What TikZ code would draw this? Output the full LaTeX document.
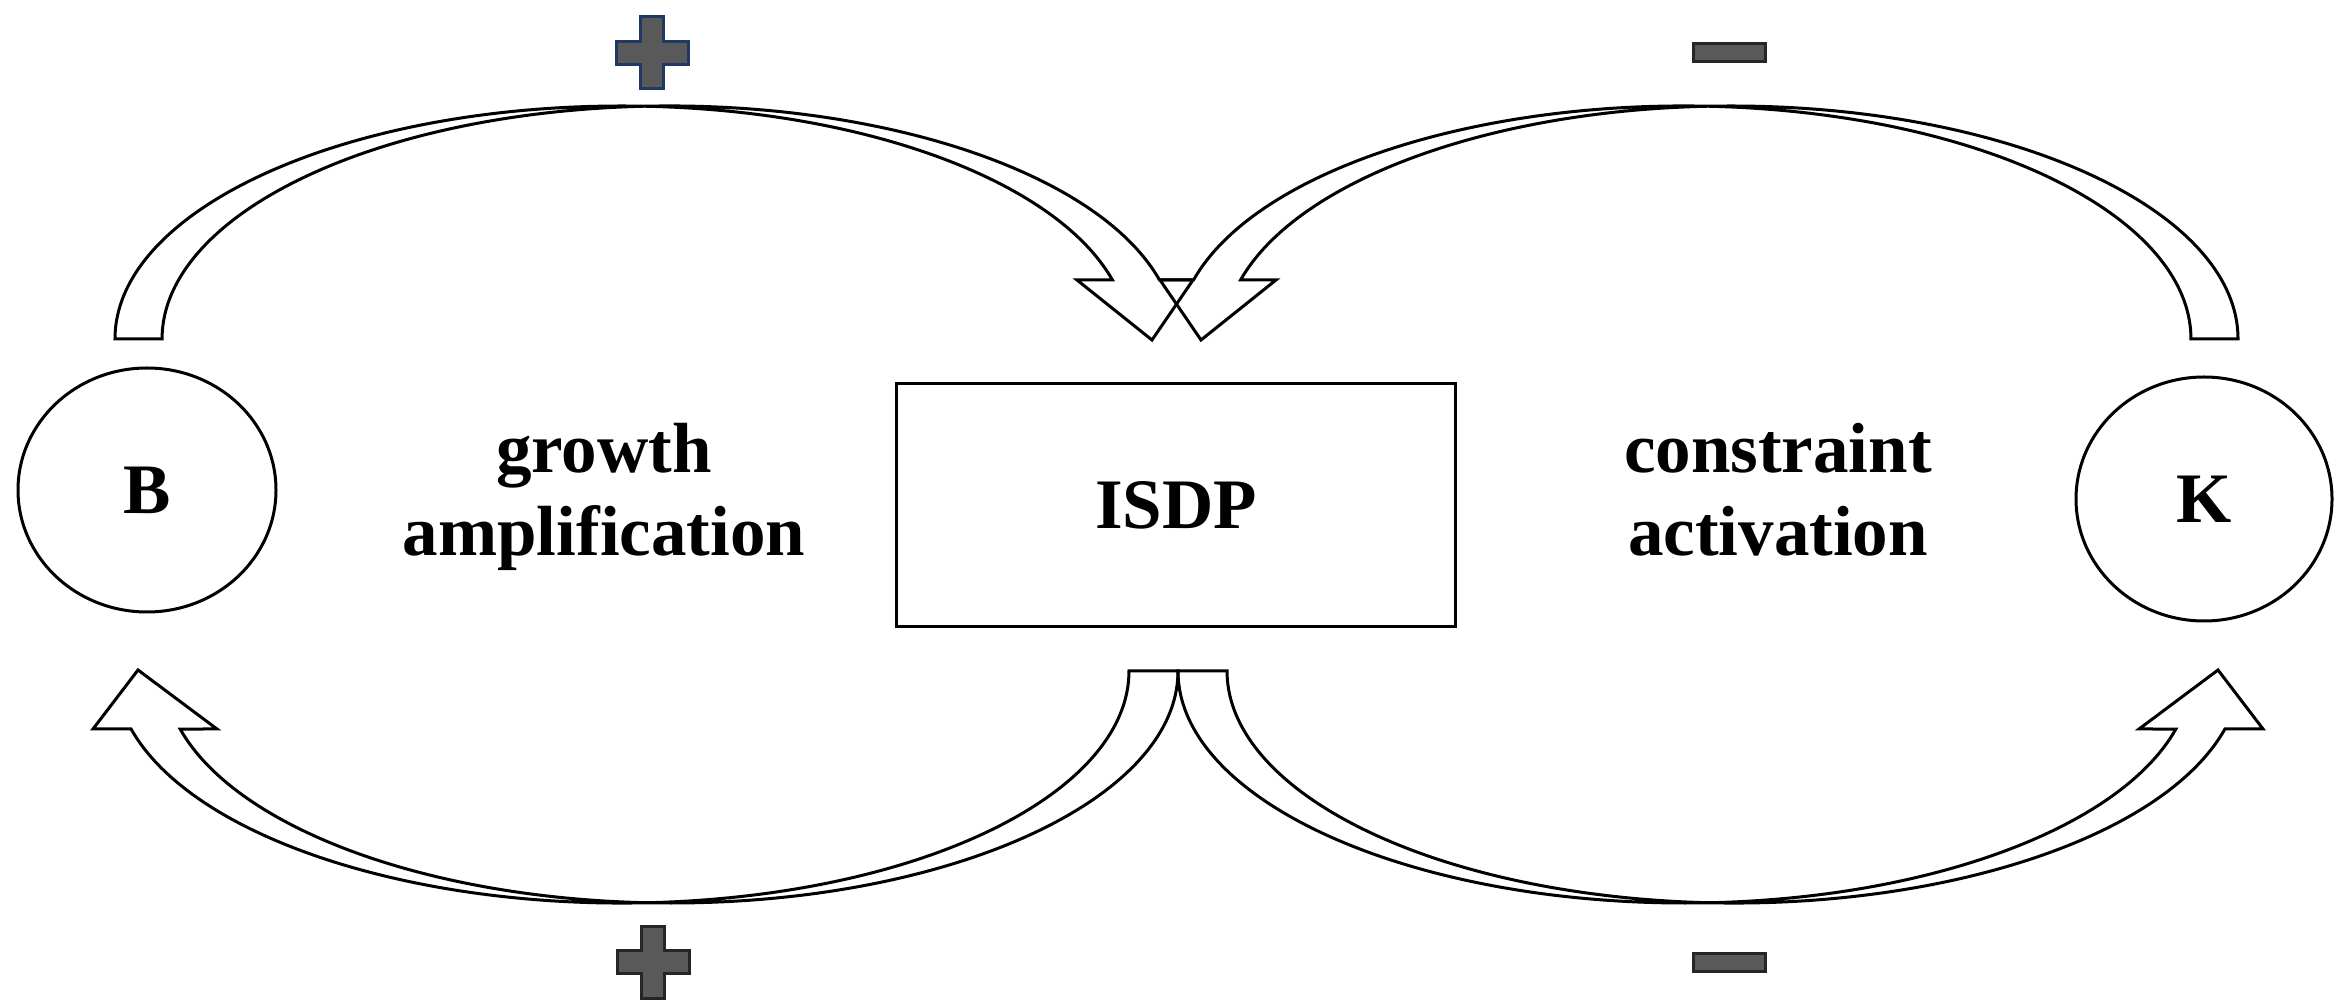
\documentclass[tikz,border=0pt]{standalone}
\usepackage{fontspec}
\setmainfont{Liberation Serif}
\usetikzlibrary{shapes.geometric}
\definecolor{signgray}{RGB}{89,89,89}
\definecolor{signnavy}{RGB}{31,56,100}
\tikzset{
  blockarrow/.style={draw=black, line width=3pt, line join=miter, miter limit=10},
  lbl/.style={font=\fontsize{71}{83}\selectfont\bfseries, inner sep=0pt, text=black},
  circnode/.style={ellipse, draw=black, line width=3pt, inner sep=0pt, lbl},
  signshape/.style={fill=signgray, line width=3pt, line join=miter},
  plusshape/.pic={
    \path[pic actions] (-11.5,36) -- (11.5,36) -- (11.5,11.5) -- (36,11.5) -- (36,-11.5)
      -- (11.5,-11.5) -- (11.5,-36) -- (-11.5,-36) -- (-11.5,-11.5) -- (-36,-11.5)
      -- (-36,11.5) -- (-11.5,11.5) -- cycle;
  }
}
\begin{document}
\begin{tikzpicture}[x=1pt,y=1pt]
\useasboundingbox (0,0) rectangle (2342,1007);
\fill[white] (0,0) rectangle (2342,1007);

% nodes
\node[circnode, minimum width=258pt, minimum height=244pt] (B) at (147,517) {B};
\node[circnode, minimum width=256pt, minimum height=244pt] (K) at (2204,508) {K};
\node[lbl, draw=black, line width=3.5pt, minimum width=559pt, minimum height=243pt] (ISDP) at (1176,502) {ISDP};
\node[lbl, align=center] (ga) at (604,510) {growth\\amplification};
\node[lbl, align=center] (ca) at (1778,517) {constraint\\activation};

% top-left curved arrow (B -> ISDP)
\draw[blockarrow] (115,668) arc[start angle=180,end angle=14.67,x radius=507pt,y radius=233pt]
  -- (1077,727) -- (1152,667) -- (1193,727) -- (1159.5,727)
  arc[start angle=14.67,end angle=180,x radius=507pt,y radius=233pt] -- cycle;

% top-right curved arrow (K -> ISDP)
\draw[blockarrow] (2238,668) arc[start angle=0,end angle=165.33,x radius=507pt,y radius=233pt]
  -- (1276,727) -- (1201,667) -- (1160,727) -- (1193.5,727)
  arc[start angle=165.33,end angle=0,x radius=507pt,y radius=233pt] -- cycle;

% bottom-left curved arrow (ISDP -> B)
\draw[blockarrow] (1178,336) arc[start angle=0,end angle=-165.52,x radius=507pt,y radius=232pt]
  -- (217,278) -- (138,337) -- (93,278) -- (131.1,278)
  arc[start angle=-165.52,end angle=0,x radius=507pt,y radius=232pt] -- cycle;

% bottom-right curved arrow (ISDP -> K)
\draw[blockarrow] (1178,336) arc[start angle=180,end angle=345.52,x radius=507pt,y radius=232pt]
  -- (2139,278) -- (2218,337) -- (2263,278) -- (2224.9,278)
  arc[start angle=345.52,end angle=180,x radius=507pt,y radius=232pt] -- cycle;

% signs
\pic[signshape, draw=signnavy] at (652,954) {plusshape};
\pic[signshape, draw=black!85] at (653,45) {plusshape};
\draw[signshape, draw=black!85] (1693.5,945.5) rectangle (1765.5,963.5);
\draw[signshape, draw=black!85] (1693,36) rectangle (1765,54);
\end{tikzpicture}
\end{document}
